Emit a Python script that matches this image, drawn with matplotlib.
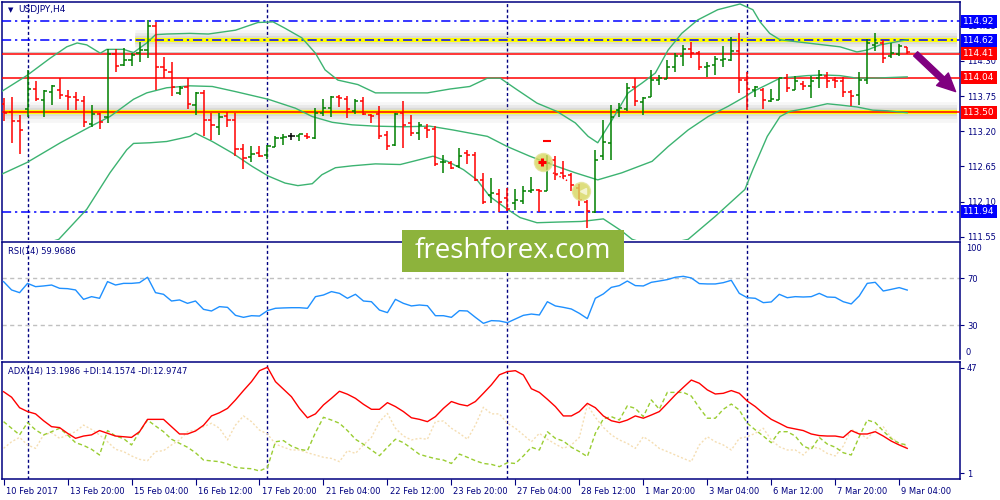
import numpy as np
import matplotlib
matplotlib.use('Agg')
import matplotlib.pyplot as plt
import matplotlib.transforms as mtransforms
from matplotlib.patches import Rectangle, FancyArrowPatch

GREEN = '#008000'
RED = '#ff0000'
NAVY = '#000080'
BLUE = '#0000ff'
BAND = '#3cb371'

# H4 bars of USDJPY, oldest first
bar_open = [113.63, 113.495, 113.355, 113.547, 113.86, 113.693, 113.82, 113.85, 113.755, 113.735,
            113.68, 113.318, 113.474, 113.42, 114.41, 114.23, 114.32, 114.43, 114.47, 114.85,
            114.20, 114.12, 113.797, 113.89, 113.615, 113.80, 113.37, 113.27, 113.44, 113.38,
            112.92, 112.80, 112.86, 112.83, 112.96, 113.09, 113.13, 113.12, 113.13, 113.095,
            113.485, 113.56, 113.735, 113.70, 113.51, 113.68, 113.46, 113.47, 113.145, 112.99,
            113.485, 113.33, 113.18, 113.25, 113.24, 112.715, 112.71, 112.66, 112.86, 112.825,
            112.445, 112.21, 112.225, 112.16, 112.08, 112.105, 112.26, 112.28, 112.26, 112.75,
            112.54, 112.51, 112.315, 112.10, 111.935, 112.81, 113.02, 113.54, 113.55, 113.89,
            113.66, 113.735, 114.00, 114.015, 114.20, 114.38, 114.48, 114.43, 114.20, 114.24,
            114.31, 114.32, 114.46, 114.005, 113.85, 113.85, 113.68, 113.69, 114.03, 113.85,
            113.94, 113.91, 114.03, 114.065, 114.005, 113.98, 113.82, 113.765, 113.995, 114.55,
            114.585, 114.37, 114.41, 114.525]
bar_high = [113.72, 113.735, 113.459, 114.16, 113.99, 113.85, 113.92, 114.04, 113.85, 113.81,
            113.755, 113.615, 113.485, 114.483, 114.483, 114.50, 114.43, 114.60, 114.94, 114.915,
            114.36, 114.29, 113.91, 114.04, 113.82, 113.85, 113.485, 113.485, 113.495, 113.485,
            113.00, 112.975, 112.975, 112.99, 113.12, 113.16, 113.18, 113.16, 113.17, 113.56,
            113.70, 113.745, 113.77, 113.755, 113.70, 113.73, 113.475, 113.60, 113.21, 113.485,
            113.67, 113.46, 113.345, 113.32, 113.28, 112.835, 112.73, 112.94, 112.91, 112.87,
            112.54, 112.47, 112.29, 112.315, 112.29, 112.35, 112.49, 112.29, 112.835, 112.82,
            112.73, 112.54, 112.37, 112.12, 112.90, 113.38, 113.615, 113.64, 113.95, 114.04,
            113.735, 114.16, 114.08, 114.315, 114.43, 114.55, 114.59, 114.46, 114.275, 114.38,
            114.535, 114.68, 114.74, 114.125, 113.91, 113.875, 113.86, 114.04, 114.10, 114.07,
            113.98, 114.07, 114.16, 114.12, 114.055, 114.055, 113.85, 114.12, 114.64, 114.73,
            114.62, 114.585, 114.565, 114.525]
bar_low = [113.355, 113.017, 112.85, 113.42, 113.68, 113.43, 113.615, 113.70, 113.54, 113.54,
           113.266, 113.266, 113.235, 113.33, 114.12, 114.22, 114.22, 114.275, 114.34, 113.84,
           114.03, 113.745, 113.765, 113.55, 113.46, 113.12, 113.07, 113.145, 113.266, 112.81,
           112.61, 112.715, 112.79, 112.76, 112.96, 112.99, 113.07, 113.04, 113.08, 113.08,
           113.44, 113.42, 113.58, 113.41, 113.475, 113.46, 113.33, 113.08, 112.91, 112.975,
           112.94, 113.12, 113.07, 113.095, 112.65, 112.55, 112.61, 112.625, 112.695, 112.42,
           112.055, 112.08, 111.935, 111.95, 111.975, 112.055, 112.23, 111.935, 112.26, 112.44,
           112.47, 112.26, 112.03, 111.69, 111.915, 112.755, 112.745, 113.42, 113.51, 113.59,
           113.46, 113.735, 113.925, 114.015, 114.12, 114.22, 114.34, 114.15, 114.045, 114.08,
           114.20, 114.30, 113.80, 113.535, 113.735, 113.55, 113.65, 113.69, 113.81, 113.85,
           113.84, 113.72, 113.875, 113.875, 113.875, 113.735, 113.59, 113.615, 113.94, 114.45,
           114.265, 114.34, 114.37, 114.41]
bar_close = [113.485, 113.355, 113.225, 113.86, 113.70, 113.823, 113.90, 113.77, 113.735, 113.682,
             113.34, 113.474, 113.34, 114.41, 114.22, 114.32, 114.39, 114.47, 114.85, 114.20,
             114.16, 113.89, 113.875, 113.63, 113.80, 113.37, 113.29, 113.43, 113.38, 112.92,
             112.78, 112.85, 112.81, 112.97, 113.09, 113.11, 113.13, 113.15, 113.11, 113.485,
             113.56, 113.735, 113.72, 113.55, 113.68, 113.47, 113.44, 113.13, 112.975, 113.475,
             113.30, 113.17, 113.29, 113.215, 112.695, 112.725, 112.625, 112.81, 112.835, 112.445,
             112.09, 112.24, 112.09, 111.98, 112.12, 112.26, 112.28, 112.26, 112.70, 112.535,
             112.50, 112.36, 112.12, 111.95, 112.75, 113.03, 113.43, 113.56, 113.875, 113.667,
             113.72, 113.995, 114.03, 114.20, 114.38, 114.48, 114.43, 114.20, 114.22, 114.33,
             114.33, 114.46, 114.005, 113.86, 113.89, 113.69, 113.70, 114.03, 113.875, 113.98,
             113.91, 113.99, 114.08, 113.98, 113.98, 113.82, 113.755, 113.995, 114.575, 114.575,
             114.345, 114.42, 114.535, 114.445]

# Bollinger bands as (bar, price) points
upper_idx = [-0.4, 2.9, 5.8, 7.9, 9.2, 10.4, 12.1, 12.9, 15.0, 16.25, 17.9, 19.0, 20.4, 23.3, 25.6,
             29.0, 31.8, 33.7, 35.2, 37.3, 39.0, 40.2, 41.8, 44.3, 46.5, 50.0, 53.0, 55.8, 58.3, 60.5,
             62.1, 64.2, 66.7, 69.2, 71.5, 73.1, 74.3, 76.1, 78.1, 79.8, 81.5, 83.1, 84.8, 86.8, 89.3,
             92.1, 93.7, 94.6, 95.8, 97.1, 100.5, 104.6, 106.7, 108.0, 109.6, 111.7, 113]
upper_val = [113.81, 114.07, 114.34, 114.52, 114.58, 114.55, 114.42, 114.48, 114.48, 114.43, 114.58,
             114.71, 114.72, 114.73, 114.72, 114.78, 114.90, 114.91, 114.81, 114.66, 114.42, 114.16,
             114.00, 113.93, 113.80, 113.80, 113.80, 113.86, 113.90, 114.03, 114.03, 113.85, 113.64,
             113.51, 113.33, 113.12, 113.02, 113.38, 113.80, 113.95, 114.11, 114.47, 114.73, 114.94,
             115.10, 115.19, 115.10, 114.91, 114.73, 114.63, 114.58, 114.52, 114.44, 114.47, 114.55,
             114.60, 114.63]
middle_idx = [-0.4, 2.9, 7.1, 11.25, 13.3, 16.25, 17.9, 20.4, 23.3, 26.1, 29.0, 33.1, 36.5, 38.6,
              41.1, 43.6, 46.5, 50.0, 53.3, 56.2, 60.5, 63.0, 65.8, 69.2, 71.5, 74.3, 77.3, 81.1,
              83.1, 85.6, 88.1, 90.6, 92.7, 93.7, 95.5, 97.1, 100.5, 102.5, 104.6, 106.7, 108.7, 113]
middle_val = [112.52, 112.71, 113.02, 113.30, 113.43, 113.70, 113.80, 113.88, 113.91, 113.90, 113.82,
              113.70, 113.56, 113.43, 113.34, 113.30, 113.28, 113.27, 113.28, 113.22, 113.12, 112.96,
              112.81, 112.65, 112.55, 112.44, 112.55, 112.73, 112.96, 113.22, 113.43, 113.59, 113.74,
              113.82, 113.93, 114.03, 114.07, 114.08, 114.07, 114.03, 114.03, 114.05]
lower_idx = [-0.4, 2.9, 6.9, 10.4, 13.3, 15.4, 16.25, 18.3, 20.4, 23.3, 24.0, 26.1, 28.6, 31.1, 33.1,
             35.2, 36.8, 38.6, 39.8, 41.5, 43.6, 46.5, 49.6, 51.2, 53.7, 55.5, 57.5, 59.2, 60.8, 63.0,
             64.6, 66.7, 69.2, 72.3, 75.0, 77.3, 78.6, 81.5, 85.6, 89.0, 92.7, 93.7, 95.5, 97.1, 98.3,
             100.5, 103.0, 104.6, 106.7, 108.7, 110.5, 113]
lower_val = [111.24, 111.36, 111.51, 111.98, 112.55, 112.91, 113.01, 113.02, 113.04, 113.12, 113.17,
             113.04, 112.86, 112.65, 112.50, 112.39, 112.35, 112.38, 112.52, 112.63, 112.66, 112.69,
             112.68, 112.73, 112.81, 112.73, 112.60, 112.44, 112.18, 111.98, 111.85, 111.77, 111.78,
             111.79, 111.83, 111.64, 111.51, 111.40, 111.51, 111.87, 112.29, 112.60, 113.12, 113.43,
             113.51, 113.56, 113.63, 113.61, 113.58, 113.53, 113.52, 113.49]

rsi = [67.2, 60.1, 57.8, 65.7, 62.9, 63.5, 64.3, 61.5, 61.2, 60.1,
       52.1, 54.4, 53.0, 67.2, 64.3, 65.7, 65.7, 66.3, 70.9, 57.8,
       56.4, 50.7, 51.6, 48.7, 50.7, 43.6, 42.2, 45.9, 45.3, 38.5,
       36.8, 38.2, 37.9, 42.5, 44.5, 44.8, 45.0, 45.0, 44.5, 54.4,
       55.8, 58.7, 57.2, 53.0, 56.4, 50.7, 50.1, 43.0, 40.8, 52.1,
       48.7, 46.5, 47.3, 46.7, 38.2, 38.2, 36.8, 42.5, 42.2, 36.8,
       31.7, 34.0, 33.7, 32.3, 35.4, 38.5, 39.6, 38.8, 50.1, 46.5,
       45.3, 43.9, 40.2, 35.7, 53.0, 56.7, 62.3, 63.8, 67.7, 63.8,
       63.5, 66.6, 67.7, 68.9, 70.9, 71.7, 70.3, 65.5, 65.2, 65.2,
       66.3, 68.3, 57.2, 53.5, 53.0, 49.3, 49.9, 56.4, 53.5, 54.4,
       54.1, 54.4, 57.2, 54.1, 53.8, 50.1, 48.2, 55.0, 65.7, 66.6,
       59.2, 60.6, 62.1, 60.0]

adx = [36.6, 34.2, 29.6, 27.9, 26.9, 23.9, 21.3, 20.9, 18.4, 16.2,
       17.2, 17.7, 19.6, 18.4, 17.2, 16.9, 16.6, 19.1, 24.5, 24.5,
       24.5, 21.3, 18.1, 18.1, 19.4, 21.9, 26.0, 27.4, 29.3, 33.0,
       37.1, 41.0, 45.8, 47.3, 41.0, 37.7, 34.4, 29.3, 25.2, 26.9,
       30.8, 33.7, 36.8, 35.5, 33.7, 31.1, 28.9, 28.9, 31.8, 30.1,
       27.9, 25.2, 24.5, 23.5, 25.7, 29.3, 32.3, 31.1, 30.4, 32.3,
       35.9, 39.6, 44.0, 45.4, 45.8, 43.9, 37.9, 36.3, 33.3, 30.1,
       26.0, 26.0, 27.9, 31.5, 29.6, 26.0, 23.9, 23.1, 24.2, 26.0,
       25.0, 26.4, 27.9, 31.5, 35.2, 38.5, 41.7, 40.3, 37.4, 35.6,
       35.9, 37.1, 35.9, 32.5, 30.1, 27.1, 24.5, 22.8, 21.0, 20.3,
       19.6, 18.1, 17.4, 17.2, 17.2, 16.6, 19.6, 18.1, 18.1, 19.1,
       17.2, 15.0, 13.3, 11.8]
plus_di = [23.5, 20.6, 17.7, 23.1, 19.9, 17.7, 19.1, 20.6, 17.7, 14.3,
           13.1, 11.4, 8.9, 19.6, 17.2, 16.1, 13.3, 19.1, 24.2, 21.6,
           19.1, 15.8, 14.0, 12.3, 9.9, 6.7, 6.3, 6.0, 5.0, 3.5,
           3.1, 2.9, 1.9, 3.5, 14.7, 15.2, 12.8, 11.4, 10.8, 18.7,
           25.4, 24.2, 22.8, 19.6, 15.8, 13.6, 11.1, 8.6, 12.3, 15.8,
           14.3, 11.8, 9.2, 8.2, 7.3, 6.7, 5.2, 9.3, 7.9, 6.4,
           5.2, 4.8, 3.8, 5.5, 5.2, 8.5, 12.3, 11.1, 19.1, 16.2,
           15.0, 12.3, 10.4, 8.2, 18.4, 24.7, 25.7, 24.2, 30.4, 29.3,
           25.7, 33.0, 28.9, 36.3, 36.3, 36.3, 34.7, 29.6, 25.0, 25.0,
           28.9, 31.2, 28.6, 22.8, 19.9, 17.2, 14.3, 19.1, 19.1, 17.2,
           12.8, 11.4, 16.6, 13.7, 12.3, 9.9, 8.9, 16.9, 24.2, 23.1,
           19.4, 16.1, 14.0, 13.3]
minus_di = [11.8, 14.7, 16.6, 13.3, 11.8, 17.7, 18.7, 16.2, 17.7, 19.1,
            22.0, 20.1, 17.7, 14.7, 11.4, 10.4, 8.5, 7.0, 6.4, 10.4,
            10.8, 13.3, 15.5, 19.1, 19.8, 21.3, 22.8, 20.6, 15.5, 22.0,
            26.0, 23.5, 19.8, 18.1, 13.7, 12.3, 11.1, 11.1, 9.9, 8.9,
            7.9, 7.4, 6.0, 10.8, 9.6, 13.3, 16.6, 23.5, 27.1, 20.6,
            17.2, 15.5, 16.2, 15.8, 23.5, 23.8, 20.6, 18.4, 15.8, 22.0,
            29.8, 26.9, 26.9, 22.8, 20.6, 17.7, 14.7, 18.4, 15.8, 13.7,
            11.8, 13.3, 16.6, 30.8, 25.4, 21.0, 17.7, 15.5, 14.0, 11.8,
            16.9, 14.7, 11.8, 10.4, 8.9, 7.4, 6.0, 13.3, 16.9, 14.7,
            13.3, 11.1, 16.2, 16.9, 18.4, 20.6, 15.5, 12.5, 11.1, 11.1,
            8.9, 12.5, 11.8, 9.6, 8.5, 12.8, 20.1, 18.4, 16.2, 19.8,
            21.3, 16.6, 14.0, 12.5]

date_labels = ['10 Feb 2017', '13 Feb 20:00', '15 Feb 04:00', '16 Feb 12:00', '17 Feb 20:00',
               '21 Feb 04:00', '22 Feb 12:00', '23 Feb 20:00', '27 Feb 04:00', '28 Feb 12:00',
               '1 Mar 20:00', '3 Mar 04:00', '6 Mar 12:00', '7 Mar 20:00', '9 Mar 04:00']
price_ticks = [114.85, 114.30, 113.75, 113.20, 112.65, 112.10, 111.55]
red_levels = [114.41, 114.04, 113.50]
blue_levels = [114.92, 114.62, 111.94]
yellow_levels = [114.62, 113.50]
yellow_start = [16.4, 0.2]
week_bars = [3, 33, 63, 93]
rsi_levels = [70, 30]
adx_ticks = [47, 1]

# hand-drawn marks on the chart
circle_marks = [(67.5, 112.725), (72.2, 112.26)]
arrow_start = (113.8, 114.44)
arrow_end = (119.3, 113.79)

X_LIM = (-0.16, 119.6)


def style_axes(ax, bottom=True):
    for s in ax.spines.values():
        s.set_color(NAVY)
        s.set_linewidth(1.1)
    ax.spines['bottom'].set_visible(bottom)
    ax.set_xlim(*X_LIM)
    ax.yaxis.tick_right()
    ax.tick_params(axis='y', direction='out', length=3, width=0.8, colors=NAVY,
                   labelsize=6, pad=2)
    ax.set_xticks([])
    for b in week_bars:
        ax.axvline(b, color=NAVY, lw=1, ls=(0, (2.2, 1.8)), zorder=1)


def draw_bars(ax):
    idx = np.arange(len(bar_open))
    colors = [GREEN if c > o else RED if c < o else 'black' for o, c in zip(bar_open, bar_close)]
    ax.vlines(idx, bar_low, bar_high, colors=colors, lw=1.1, zorder=4)
    ax.hlines(bar_open, idx - 0.38, idx, colors=colors, lw=1.1, zorder=4)
    ax.hlines(bar_close, idx, idx + 0.38, colors=colors, lw=1.1, zorder=4)


def price_box(ax, price, color):
    ax.text(1.0035, price, f'{price:.2f}', transform=ax.get_yaxis_transform(),
            ha='left', va='center', fontsize=6.5, color='white', clip_on=False, zorder=8,
            bbox=dict(boxstyle='square,pad=0.22', fc=color, ec='none'))


def main():
    plt.rcParams['font.family'] = ['DejaVu Sans']
    fig = plt.figure(figsize=(10, 5), dpi=100)

    ax = fig.add_axes([0.0023, 0.52, 0.9577, 0.4754])
    ax_rsi = fig.add_axes([0.0023, 0.282, 0.9577, 0.234])
    ax_adx = fig.add_axes([0.0023, 0.042, 0.9577, 0.234])

    # price window
    style_axes(ax, bottom=False)
    ax.set_ylim(111.50, 115.216)
    ax.set_yticks(price_ticks)
    ax.set_yticklabels([f'{p:.2f}' for p in price_ticks])

    for p, x0 in zip(yellow_levels, yellow_start):
        for w, a in [(15, 0.05), (10, 0.08), (6, 0.10)]:
            ax.hlines(p, x0, 119.2, color='0.35', alpha=a, lw=w, zorder=2)
        ax.hlines(p, x0, 119.2, color='#ffff00', lw=3, zorder=2.5)
    ax.axhline(114.445, color='#cccccc', lw=0.8, zorder=2)
    for p in red_levels:
        ax.axhline(p, color=RED, lw=1.1, zorder=3)
        price_box(ax, p, RED)
    for p in blue_levels:
        ax.axhline(p, color=BLUE, lw=1.1, ls=(0, (6, 2.5, 1.5, 2.5)), zorder=3)
        price_box(ax, p, BLUE)

    ax.plot(upper_idx, upper_val, color=BAND, lw=1, zorder=3)
    ax.plot(middle_idx, middle_val, color=BAND, lw=1, zorder=3)
    ax.plot(lower_idx, lower_val, color=BAND, lw=1, zorder=3)
    draw_bars(ax)

    cx, cy = zip(*circle_marks)
    ax.plot(cx, cy, 'o', ms=13, mfc='#d6d65c', mec='#e4e49a', alpha=0.8, zorder=5)
    ax.plot(cx[0] - 0.2, cy[0], '+', ms=6, mew=2.2, color=RED, zorder=6)
    ax.plot(cx[0] + 0.4, 113.05, '_', ms=6, mew=1.5, color=RED, zorder=6)
    ax.plot(cx[1] + 0.2, cy[1], '<', ms=4, color='#f4f4d0', zorder=6)
    ax.plot([68.7, 70.6], [112.55, 112.42], color=RED, ls=':', lw=1, zorder=5)

    ax.add_patch(FancyArrowPatch(arrow_start, arrow_end, color='#800080', zorder=7,
                                 arrowstyle='simple,head_length=1.0,head_width=0.95,tail_width=0.32',
                                 mutation_scale=13))

    ax.text(0.006, 0.968, '\u25bc', transform=ax.transAxes, fontsize=5, color=NAVY, va='center')
    ax.text(0.0165, 0.968, 'USDJPY,H4', transform=ax.transAxes, fontsize=6.5, color=NAVY,
            va='center')

    # RSI window
    style_axes(ax_rsi, bottom=False)
    ax_rsi.set_ylim(1.35, 100.9)
    ax_rsi.set_yticks(rsi_levels)
    for lv in rsi_levels:
        ax_rsi.axhline(lv, color='#c0c0c0', lw=1, ls=(0, (3, 2.5)), zorder=1)
    ax_rsi.plot(np.arange(len(rsi)), rsi, color='#1e90ff', lw=1, zorder=3)
    ax_rsi.text(1.006, 0.985, '100', transform=ax_rsi.transAxes, fontsize=6, color=NAVY,
                va='top', ha='left')
    ax_rsi.text(1.006, 0.02, '0', transform=ax_rsi.transAxes, fontsize=6, color=NAVY,
                va='bottom', ha='left')
    ax_rsi.text(0.0055, 0.923, 'RSI(14) 59.9686', transform=ax_rsi.transAxes, fontsize=6,
                color=NAVY, va='center')

    # ADX window
    style_axes(ax_adx)
    ax_adx.set_ylim(-1.6, 49.6)
    ax_adx.set_yticks(adx_ticks)
    bars = np.arange(len(adx))
    ax_adx.plot(bars, minus_di, color='#f5deb3', lw=1, ls=(0, (1.5, 1.5)), zorder=2)
    ax_adx.plot(bars, plus_di, color='#9acd32', lw=1, ls=(0, (3, 2)), zorder=2)
    ax_adx.plot(bars, adx, color=RED, lw=1, zorder=3)
    ax_adx.text(0.0055, 0.915, 'ADX(14) 13.1986 +DI:14.1574 -DI:12.9747',
                transform=ax_adx.transAxes, fontsize=6, color=NAVY, va='center')

    ax_adx.set_xticks(np.arange(0, 8 * len(date_labels), 8))
    ax_adx.set_xticklabels(date_labels)
    ax_adx.tick_params(axis='x', direction='out', length=4, width=0.8, colors=NAVY,
                       labelsize=6, pad=2)
    shift = mtransforms.ScaledTranslation(1.5 / 72, 0, fig.dpi_scale_trans)
    for lab in ax_adx.get_xticklabels():
        lab.set_horizontalalignment('left')
        lab.set_transform(lab.get_transform() + shift)

    # watermark
    fig.add_artist(Rectangle((0.402, 0.457), 0.222, 0.083, transform=fig.transFigure,
                             facecolor='#8db33c', edgecolor='none', zorder=10))
    fig.text(0.513, 0.499, 'freshforex.com', color='white', fontsize=20, family='Open Sans',
             ha='center', va='center', zorder=11)

    fig.savefig('out.png', dpi=100)


if __name__ == "__main__":
    main()
